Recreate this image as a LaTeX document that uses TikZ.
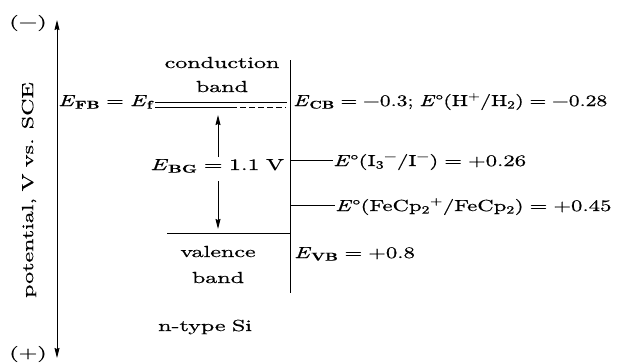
\documentclass[tikz,border=0pt]{standalone}
\usepackage{fontspec}
\setmainfont{lmroman10-regular.otf}[
  BoldFont=lmroman10-bold.otf,
  ItalicFont=lmroman10-italic.otf,
  BoldItalicFont=lmroman10-bolditalic.otf,
  FakeStretch=1.5,
  FakeBold=0.6,
  WordSpace=0.8]
\newfontfamily\rfont{lmroman10-regular.otf}[
  BoldFont=lmroman10-bold.otf,
  ItalicFont=lmroman10-italic.otf,
  BoldItalicFont=lmroman10-bolditalic.otf,
  FakeStretch=1.35,
  FakeBold=0.6,
  WordSpace=0.8]
\newfontfamily\qfont{lmroman10-regular.otf}[
  BoldFont=lmroman10-bold.otf,
  ItalicFont=lmroman10-italic.otf,
  BoldItalicFont=lmroman10-bolditalic.otf,
  FakeStretch=1.42,
  FakeBold=0.6,
  WordSpace=0.8]
\usetikzlibrary{arrows.meta}
\newcommand{\Ev}[1]{\textit{E}\textsubscript{\textbf{#1}}}
\begin{document}
\begin{tikzpicture}[x=1pt,y=-1pt,
  txt/.style={inner sep=0pt,font=\fontsize{16}{19}\selectfont},
  rtxt/.style={inner sep=0pt,font=\rfont\fontsize{16}{19}\selectfont},
  qtxt/.style={inner sep=0pt,font=\qfont\fontsize{16}{19}\selectfont},
  ln/.style={line width=1pt},
  tip/.style={-{Stealth[length=10pt,width=5pt,inset=1pt]}},
  dtip/.style={{Stealth[length=10pt,width=5pt,inset=1pt]}-{Stealth[length=10pt,width=5pt,inset=1pt]}}]
\useasboundingbox (0,0) rectangle (621,362);
% potential axis
\coordinate (axtop) at (57,20);
\coordinate (axbot) at (57,358);
\draw[ln,dtip] (axtop) -- (axbot);
\node[txt,anchor=base] (minus) at (28,27) {(−)};
\node[txt,anchor=base] (plus) at (28,358) {(+)};
\node[txt,rotate=90] (axlab) at (29,190) {potential, V vs. SCE};
% interface
\coordinate (ifT) at (290,60);
\coordinate (ifB) at (290,293);
\draw[ln] (ifT) -- (ifB);
% conduction band
\node[txt,anchor=base] (cond1) at (222,68) {conduction};
\node[txt,anchor=base] (cond2) at (222,92) {band};
\coordinate (cbA) at (155,102.5);
\coordinate (cbB) at (287,102.5);
\coordinate (cbC) at (155,107);
\coordinate (cbD) at (231,107);
\coordinate (cbE) at (286,107);
\draw[ln] (cbA) -- (cbB);
\draw[ln] (cbC) -- (cbD);
\draw[ln,dash pattern=on 6pt off 3pt] (cbD) -- (cbE);
\node[qtxt,anchor=base west] (efb) at (58,106) {\Ev{FB} = \textit{E}\textsubscript{\textbf{f}}};
% band gap
\node[txt,anchor=base west] (ebg) at (150,170) {\Ev{BG} = 1.1 V};
\coordinate (bgT) at (218,115);
\coordinate (bgB) at (218,229);
\coordinate (bgM1) at (218,157);
\coordinate (bgM2) at (218,181);
\draw[ln,tip] (bgM1) -- (bgT);
\draw[ln,tip] (bgM2) -- (bgB);
% valence band
\coordinate (vbA) at (167,233);
\coordinate (vbB) at (290,233);
\draw[ln] (vbA) -- (vbB);
\node[txt,anchor=base] (val1) at (218,257) {valence};
\node[txt,anchor=base] (val2) at (218,283) {band};
\node[txt,anchor=base west] (ntype) at (158,331) {n-type Si};
% right side levels
\node[rtxt,anchor=base west] (ecb) at (293,106) {\Ev{CB} = −0.3; \textit{E}°(H\textsuperscript{+}/H\textsubscript{2}) = −0.28};
\coordinate (i3s) at (290,160);
\node[qtxt,anchor=base west] (i3) at (333,166) {\textit{E}°(I\textsubscript{3}\textsuperscript{−}/I\textsuperscript{−}) = +0.26};
\draw[ln] (i3s) -- (i3.west |- i3s);
\coordinate (fes) at (290,205);
\node[qtxt,anchor=base west] (fe) at (335,211) {\textit{E}°(FeCp\textsubscript{2}\textsuperscript{+}/FeCp\textsubscript{2}) = +0.45};
\draw[ln] (fes) -- (fe.west |- fes);
\node[qtxt,anchor=base west] (evb) at (294,258) {\Ev{VB} = +0.8};
\end{tikzpicture}
\end{document}
